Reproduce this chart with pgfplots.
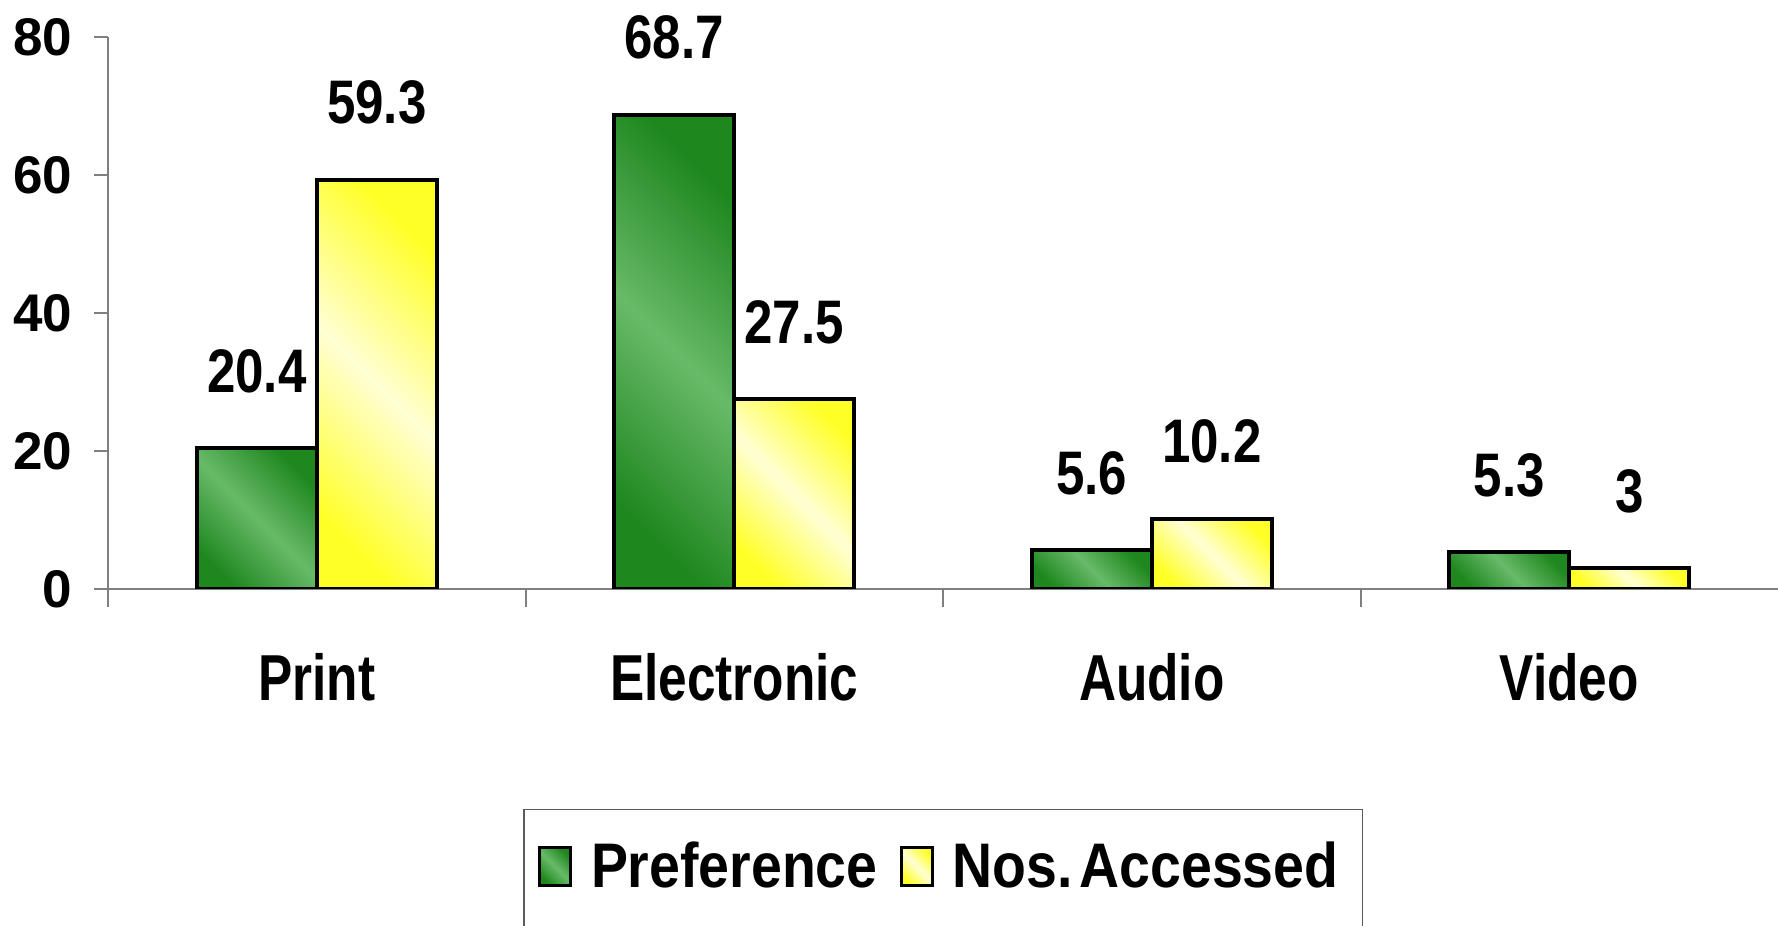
\documentclass[border=0pt]{standalone}
\usepackage{fontspec}
\setmainfont{Liberation Sans}
\newfontfamily\fdata{Liberation Sans}[FakeStretch=0.83]
\newfontfamily\fcat{Liberation Sans}[FakeStretch=0.79]
\newfontfamily\fleg{Liberation Sans}[FakeStretch=0.88]
\usepackage{pgfplots}
\pgfplotsset{compat=1.18}

\definecolor{gdark}{RGB}{30,135,30}
\definecolor{glight}{RGB}{104,186,104}
\definecolor{ystrong}{RGB}{255,255,40}
\definecolor{ypale}{RGB}{255,255,212}
\definecolor{axgray}{RGB}{128,128,128}

\pgfplotsset{
    greenbar/.style={draw=black, line width=2pt, shading=axis, top color=gdark, bottom color=gdark, middle color=glight, shading angle=-45, bar shift=-30pt},
    yellowbar/.style={draw=black, line width=2pt, shading=axis, top color=ystrong, bottom color=ystrong, middle color=ypale, shading angle=-45, bar shift=30pt},
}

\begin{document}
\begin{tikzpicture}
\useasboundingbox (0,0) rectangle (889pt,463pt);
\clip (0,0) rectangle (889pt,463pt);
\begin{axis}[
    at={(54pt,168.5pt)}, anchor=south west,
    scale only axis, width=835pt, height=276pt,
    xmin=-0.5, xmax=3.5, ymin=0, ymax=80,
    ybar=0pt, bar width=60pt,
    axis x line*=bottom, axis y line*=left,
    axis line style={axgray, line width=1pt},
    /pgf/number format/assume math mode=true,
    ytick={0,20,40,60,80},
    xtick={0,1,2,3},
    xticklabels={Print,Electronic,Audio,Video},
    minor xtick={-0.5,0.5,1.5,2.5},
    tick align=outside,
    major tick length=6.8pt,
    minor tick length=9pt,
    ytick style={axgray, line width=1pt},
    major x tick style={draw=none},
    minor x tick style={axgray, line width=1pt},
    yticklabel style={font=\fontsize{26.5}{30}\selectfont\bfseries, xshift=-7.5pt},
    xticklabel style={font=\fcat\bfseries\fontsize{32.5}{36}\selectfont, anchor=base, yshift=-49pt},
    nodes near coords,
    every node near coord/.append style={font=\fdata\bfseries\fontsize{30.75}{34}\selectfont, anchor=base, yshift=28pt},
    legend columns=2,
    legend image code/.code={\draw[#1, line width=1.6pt] (0pt,4.5pt) rectangle (15.5pt,23.5pt);},
    legend style={at={(0.2485,-0.3977)}, anchor=north west, draw=axgray!70!black, line width=0.8pt,
        font=\fleg\bfseries\fontsize{31.5}{34}\selectfont,
        inner xsep=7pt, inner ysep=16pt,
        nodes={inner xsep=5pt, inner ysep=0pt, text height=23pt, text depth=30pt},
        /tikz/every even column/.append style={column sep=6pt}},
]
% Preference
\addplot[greenbar] coordinates {(0,20.4)};
\addlegendentry{\hspace*{4.5pt}Preference}
\addplot[greenbar, forget plot] coordinates {(1,68.7)};
\addplot[greenbar, forget plot] coordinates {(2,5.6)};
\addplot[greenbar, forget plot] coordinates {(3,5.3)};
% Nos. Accessed
\addplot[yellowbar] coordinates {(0,59.3)};
\addlegendentry{\hspace*{4.5pt}Nos.\hspace{-0.22em} Accessed}
\addplot[yellowbar, forget plot] coordinates {(1,27.5)};
\addplot[yellowbar, forget plot] coordinates {(2,10.2)};
\addplot[yellowbar, forget plot] coordinates {(3,3)};
\end{axis}
\end{tikzpicture}
\end{document}
